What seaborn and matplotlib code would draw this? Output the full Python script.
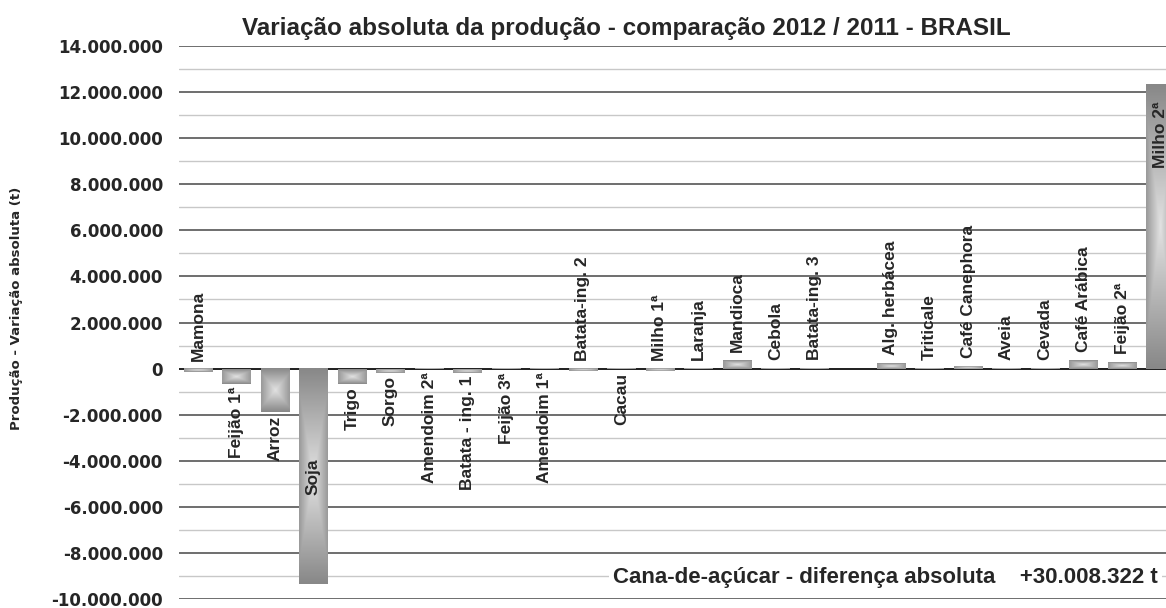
import numpy as np
import pandas as pd
import matplotlib.pyplot as plt
import seaborn as sns
from matplotlib.colors import LinearSegmentedColormap
from matplotlib.ticker import FuncFormatter, MultipleLocator

# variação absoluta da produção 2012 - 2011 (t)
culturas = ["Mamona", "Feijão 1ª", "Arroz", "Soja", "Trigo", "Sorgo", "Amendoim 2ª",
            "Batata - ing. 1", "Feijão 3ª", "Amendoim 1ª", "Batata-ing. 2", "Cacau",
            "Milho 1ª", "Laranja", "Mandioca", "Cebola", "Batata-ing. 3", "",
            "Alg. herbácea", "Triticale", "Café Canephora", "Aveia", "Cevada",
            "Café Arábica", "Feijão 2ª", "Milho 2ª"]
variacao = [-150000, -650000, -1890000, -9350000, -650000, -170000, -20000,
            -170000, -30000, -30000, -120000, -20000,
            -120000, 20000, 360000, 20000, 20000, 0,
            240000, 10000, 110000, 20000, 20000,
            380000, 290000, 12350000]
lado_rotulo = ["acima", "abaixo", "abaixo", "dentro", "abaixo", "abaixo", "abaixo",
               "abaixo", "abaixo", "abaixo", "acima", "abaixo",
               "acima", "acima", "acima", "acima", "acima", "acima",
               "acima", "acima", "acima", "acima", "acima",
               "acima", "acima", "dentro"]
rotulo_dentro = {"Soja": -3.9e6, "Milho 2ª": 11.6e6}

df = pd.DataFrame({"cultura": culturas, "variacao": variacao})

sns.set_theme(style="white")
plt.rcParams['font.family'] = ['Liberation Sans', 'DejaVu Sans']

W, H = 1166, 608
fig = plt.figure(figsize=(W / 100, H / 100), dpi=100)
ax = fig.add_axes([178.75 / W, 9 / H, 1001 / W, 553 / H])

sns.barplot(data=df, x="cultura", y="variacao", order=culturas, color="white",
            width=0.74, saturation=1, linewidth=0, errorbar=None, ax=ax)

# preenchimento em degradê cinza
cinza = LinearSegmentedColormap.from_list("cinza", ["#e2e2e2", "#888888"])
yy, xx = np.mgrid[-1:1:120j, -1:1:40j]
grad = np.maximum(np.abs(xx) * 0.8, np.abs(yy))
for bar in list(ax.patches):
    h = bar.get_height()
    if h == 0 or np.isnan(h):
        continue
    x0, y0, w = bar.get_x(), bar.get_y(), bar.get_width()
    ax.imshow(grad, extent=[x0, x0 + w, y0, y0 + h], aspect="auto", cmap=cinza,
              vmin=0, vmax=1, interpolation="bilinear", zorder=2)
    bar.set_facecolor("none")

ax.set_xlim(-0.5, len(culturas) - 0.5)
ax.set_ylim(-10e6, 14e6)
ax.yaxis.set_major_locator(MultipleLocator(2e6))
ax.yaxis.set_minor_locator(MultipleLocator(1e6))
ax.yaxis.set_major_formatter(FuncFormatter(lambda v, _: f"{v:,.0f}".replace(",", ".")))
ax.grid(which="major", axis="y", color="#555555", lw=1.2)
ax.grid(which="minor", axis="y", color="#c8c8c8", lw=1)
ax.set_axisbelow(True)
ax.axhline(0, color="#222222", lw=1.4, zorder=1.5)
for s in ax.spines.values():
    s.set_visible(False)
ax.set_xticks([])
ax.set_xlabel("")
ax.set_ylabel("")
ax.tick_params(axis="y", which="both", length=0, pad=11.5)
plt.setp(ax.get_yticklabels(), fontfamily="DejaVu Sans", fontweight="bold", fontsize=12)

# rótulos das culturas
for i, (nome, v, lado) in enumerate(zip(culturas, variacao, lado_rotulo)):
    if not nome:
        continue
    if lado == "acima":
        y, va = max(v, 0) + 0.35e6, "bottom"
    elif lado == "abaixo":
        y, va = min(v, 0) - 0.15e6, "top"
    else:
        y, va = rotulo_dentro[nome], "top"
    ax.text(i, y, nome, rotation=90, ha="center", va=va, fontsize=12.5,
            fontweight="bold", zorder=4)

fig.text(626 / W, 1 - 29 / H, "Variação absoluta da produção - comparação 2012 / 2011 - BRASIL",
         ha="center", va="center", fontsize=17.5, fontweight="bold")
fig.text(17 / W, 1 - 308 / H, "Produção - Variação absoluta (t)", rotation=90,
         ha="center", va="center", fontsize=9.5, fontweight="bold", fontfamily="DejaVu Sans")
fig.text(1158 / W, 1 - 577 / H, "Cana-de-açúcar - diferença absoluta    +30.008.322 t",
         ha="right", va="center", fontsize=16, fontweight="bold",
         bbox=dict(facecolor="white", edgecolor="none", pad=3))

fig.savefig("out.png", dpi=100)
